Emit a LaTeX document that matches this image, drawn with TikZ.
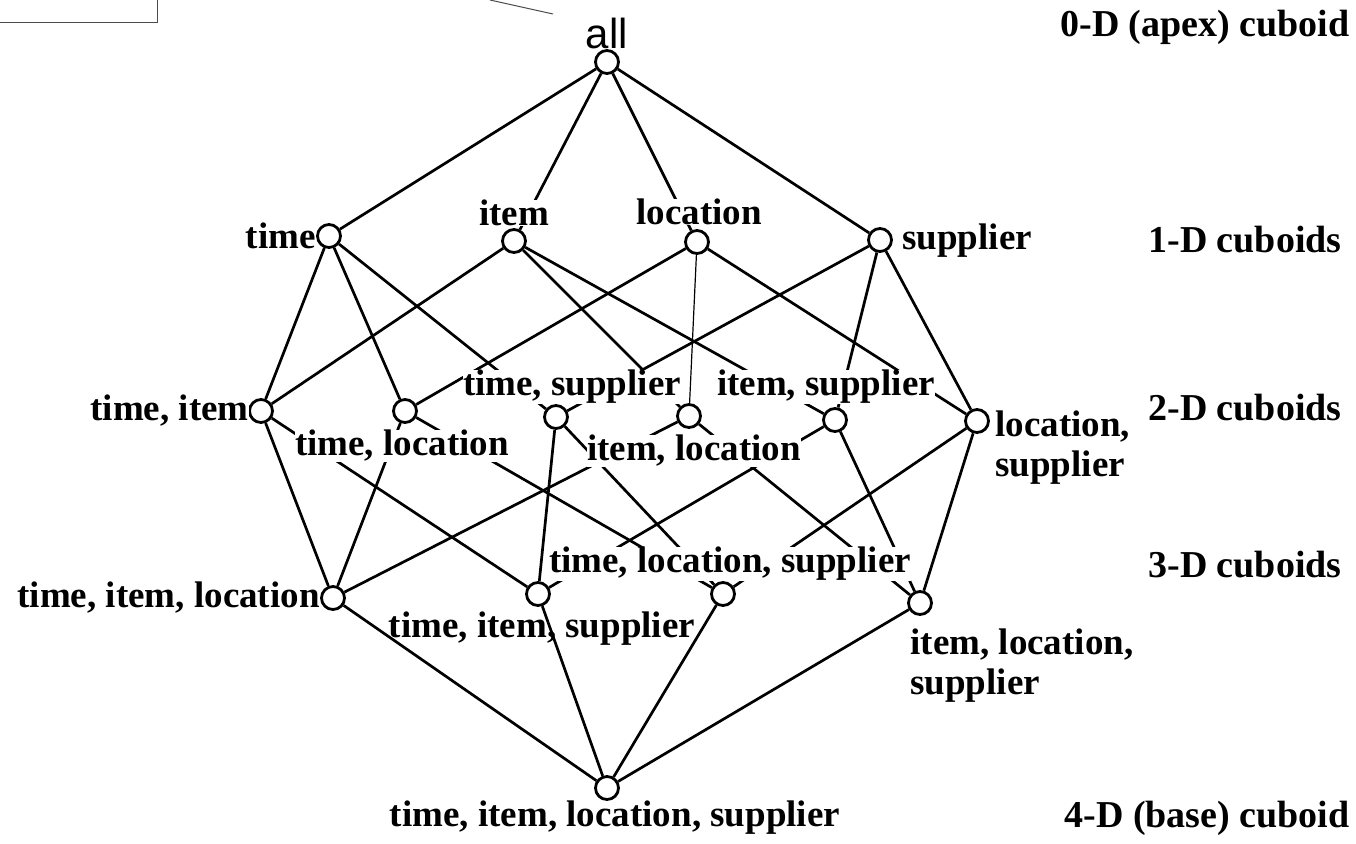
\documentclass[tikz,border=0pt]{standalone}
\usepackage{fontspec}
\setmainfont{Liberation Serif}
\newfontfamily\allfont{Liberation Sans}
\begin{document}
\begin{tikzpicture}[x=0.5pt,y=-0.5pt,
  vert/.style={circle,draw,line width=1.4pt,minimum size=11.5pt,inner sep=0pt,fill=white},
  lbl/.style={font=\fontsize{18.5}{20}\selectfont\bfseries,inner sep=0pt,fill=white,align=left},
  lvl/.style={font=\fontsize{19}{20}\selectfont\bfseries,inner sep=0pt,anchor=east},
  edge/.style={line width=1.35pt},
  thinedge/.style={line width=0.6pt},
  artifact/.style={line width=0.5pt,draw=black!70}]
\useasboundingbox (0,0) rectangle (1356,843);
% artifacts
\coordinate (b1) at (0,22); \coordinate (b2) at (157,22); \coordinate (b3) at (157,0);
\draw[artifact] (b1) -- (b2) -- (b3);
\coordinate (s1) at (490,0); \coordinate (s2) at (553,14);
\draw[artifact] (s1) -- (s2);
% vertices
\node[vert] (all) at (607,62) {};
\node[vert] (T) at (329,236) {};
\node[vert] (I) at (514,241) {};
\node[vert] (L) at (697,242) {};
\node[vert] (S) at (880,240) {};
\node[vert] (TI) at (261,411) {};
\node[vert] (TL) at (405,411) {};
\node[vert] (TS) at (556,417) {};
\node[vert] (IL) at (689,416) {};
\node[vert] (IS) at (835,420) {};
\node[vert] (LS) at (977,421) {};
\node[vert] (TIL) at (333,598) {};
\node[vert] (TIS) at (538,594) {};
\node[vert] (TLS) at (723,594) {};
\node[vert] (ILS) at (920,603) {};
\node[vert] (base) at (607,788) {};
% edges
\draw[edge] (all) -- (T); \draw[edge] (all) -- (I); \draw[edge] (all) -- (L); \draw[edge] (all) -- (S);
\draw[edge] (T) -- (TI); \draw[edge] (T) -- (TL); \draw[edge] (T) -- (TS);
\draw[edge] (I) -- (TI); \draw[edge] (I) -- (IL); \draw[edge] (I) -- (IS);
\draw[edge] (L) -- (TL); \draw[thinedge] (L) -- (IL); \draw[edge] (L) -- (LS);
\draw[edge] (S) -- (TS); \draw[edge] (S) -- (IS); \draw[edge] (S) -- (LS);
\draw[edge] (TI) -- (TIL); \draw[edge] (TI) -- (TIS);
\draw[edge] (TL) -- (TIL); \draw[edge] (TL) -- (TLS);
\draw[edge] (TS) -- (TIS); \draw[edge] (TS) -- (TLS);
\draw[edge] (IL) -- (TIL); \draw[edge] (IL) -- (ILS);
\draw[edge] (IS) -- (TIS); \draw[edge] (IS) -- (ILS);
\draw[edge] (LS) -- (TLS); \draw[edge] (LS) -- (ILS);
\draw[edge] (TIL) -- (base); \draw[edge] (TIS) -- (base); \draw[edge] (TLS) -- (base); \draw[edge] (ILS) -- (base);
% labels
\node[font=\allfont\fontsize{21}{22}\selectfont,inner sep=0pt] (lall) at (607,33) {all};
\node[lbl,anchor=east] (lT) at (316,236) {time};
\node[lbl] (lI) at (514,213) {item};
\node[lbl] (lL) at (699,212) {location};
\node[lbl,anchor=west] (lS) at (902,241) {supplier};
\node[lbl,anchor=east] (lTI) at (249,411) {time, item};
\node[lbl] (lTL) at (402,446) {time, location};
\node[lbl] (lTS) at (572,387) {time, supplier};
\node[lbl] (lIS) at (826,387) {item, supplier};
\node[lbl] (lIL) at (694,451) {item, location};
\node[lbl,anchor=north west] (lLS) at (995,410) {location,\\supplier};
\node[lbl,anchor=east] (lTIL) at (320,598) {time, item, location};
\node[lbl,fill=none] (lTIS) at (542,629) {time, item, supplier};
\node[lbl] (lTLS) at (730,564) {time, location, supplier};
\node[lbl,anchor=north west] (lILS) at (910,628) {item, location,\\supplier};
\node[lbl] (lbase) at (615,818) {time, item, location, supplier};
% level labels
\node[lvl] (v0) at (1350,27) {0-D (apex) cuboid};
\node[lvl] (v1) at (1342,240) {1-D cuboids};
\node[lvl] (v2) at (1342,408) {2-D cuboids};
\node[lvl] (v3) at (1342,565) {3-D cuboids};
\node[lvl] (v4) at (1350,818) {4-D (base) cuboid};
\end{tikzpicture}
\end{document}
